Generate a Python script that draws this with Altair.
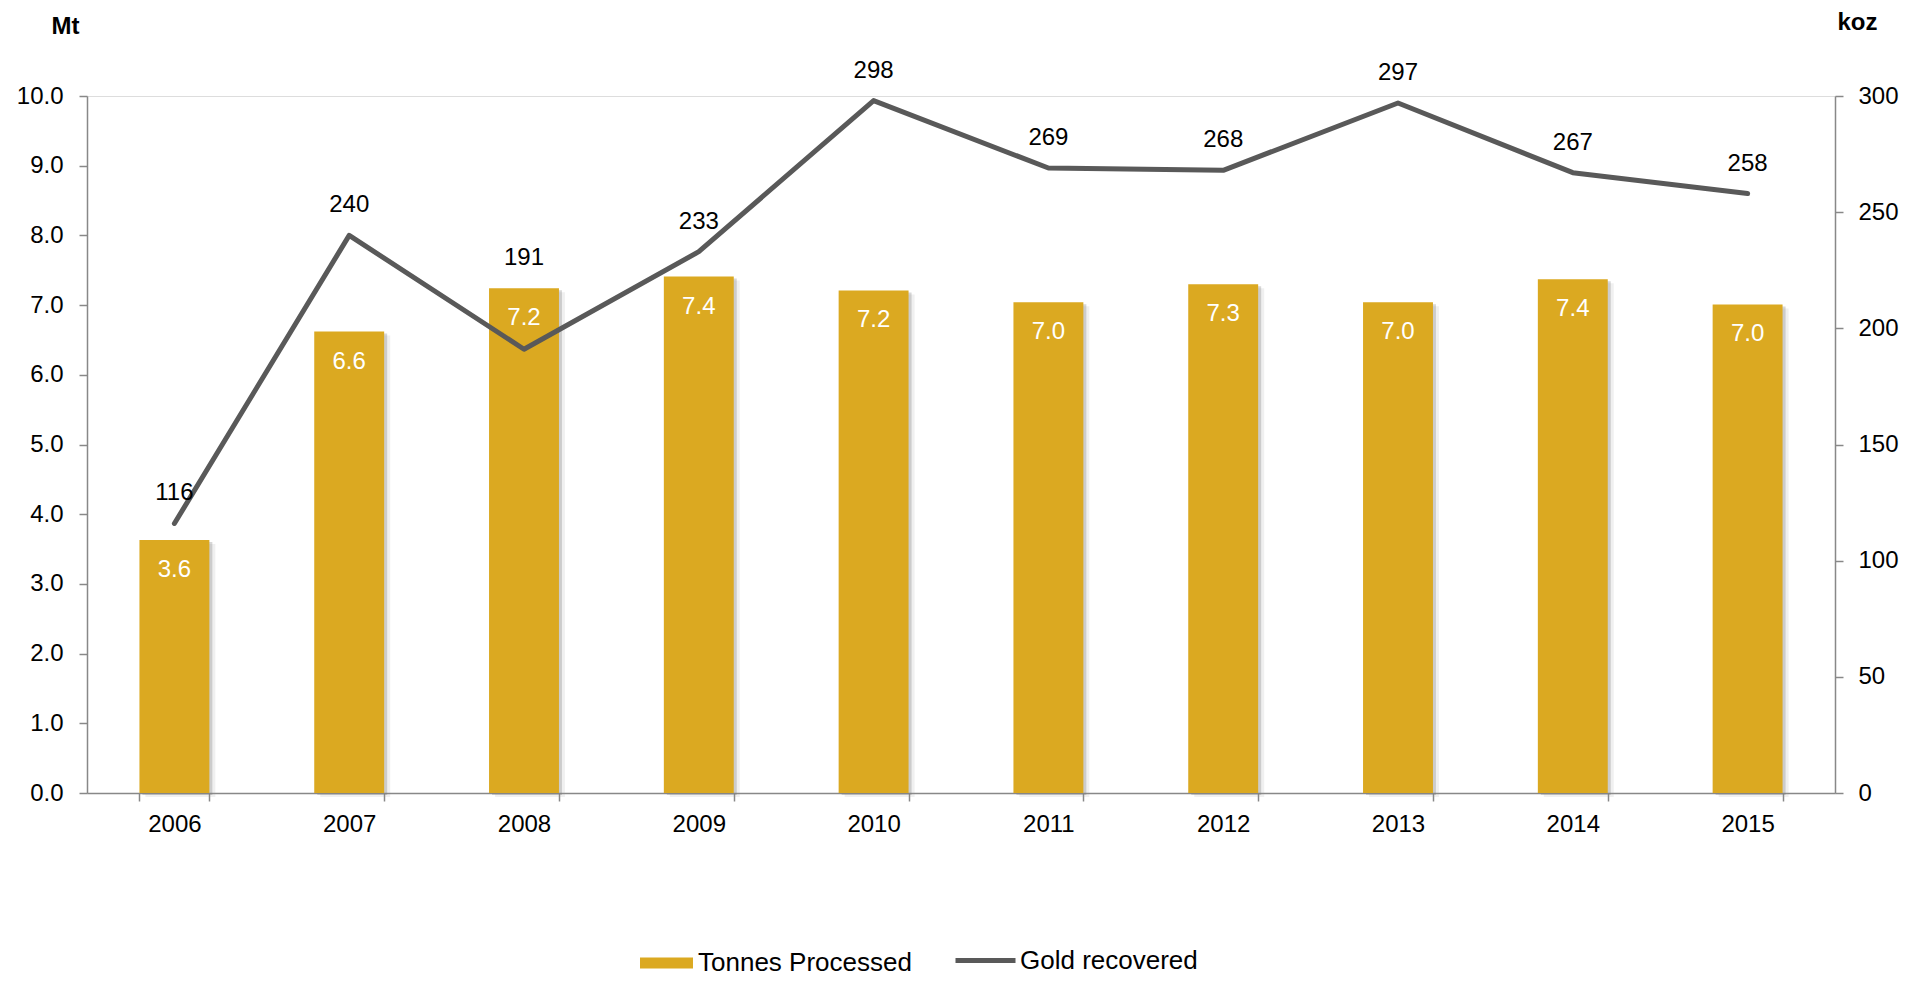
import altair as alt
import pandas as pd

years = ["2006", "2007", "2008", "2009", "2010", "2011", "2012", "2013", "2014", "2015"]
tonnes_mt = [3.63, 6.62, 7.24, 7.41, 7.21, 7.04, 7.30, 7.04, 7.37, 7.01]
gold_koz = [116, 240, 191, 233, 298, 269, 268, 297, 267, 258]
mt_ticks = [0, 1, 2, 3, 4, 5, 6, 7, 8, 9, 10]
koz_ticks = [0, 50, 100, 150, 200, 250, 300]

df = pd.DataFrame({"year": years, "mt": tonnes_mt, "koz": gold_koz})

FONT = "Liberation Sans"
GOLD = "#DBA921"
GREY = "#595959"
AXC = "#888888"

W, H = 1748, 697
SYM = 3600  # common legend symbol size (60px box)

x_enc = alt.X(
    "year:O",
    scale=alt.Scale(paddingInner=0.6, paddingOuter=0.3),
    axis=alt.Axis(
        title=None, labelAngle=0, tickBand="extent", tickSize=8, labelPadding=11,
        labelFontSize=24, labelColor="#000000", domainColor=AXC, tickColor=AXC,
        domainWidth=1.5, tickWidth=1.5, grid=False, labelFont=FONT,
    ),
)

left_axis = alt.Axis(
    orient="left", values=mt_ticks, format=".1f", tickSize=8, labelPadding=16,
    labelFontSize=24, labelColor="#000000", labelFont=FONT, domainColor=AXC, tickColor=AXC,
    domainWidth=1.5, tickWidth=1.5, grid=False,
    title="Mt", titleAngle=0, titleX=-22, titleY=-70, titleAlign="center",
    titleBaseline="middle", titleFontSize=24, titleFontWeight="bold", titleFont=FONT,
    titleColor="#000000",
)
right_axis = alt.Axis(
    orient="right", values=koz_ticks, format="d", tickSize=8, labelPadding=15,
    labelFontSize=24, labelColor="#000000", labelFont=FONT, domainColor=AXC, tickColor=AXC,
    domainWidth=1.5, tickWidth=1.5, grid=False,
    title="koz", titleAngle=0, titleX=22, titleY=-74, titleAlign="center",
    titleBaseline="middle", titleFontSize=24, titleFontWeight="bold", titleFont=FONT,
    titleColor="#000000",
)

y_left = alt.Y("mt:Q", scale=alt.Scale(domain=[0, 10], nice=False), axis=left_axis)
y_right_scale = alt.Scale(domain=[0, 300], nice=False)

base = alt.Chart(df)

shadow1 = base.mark_bar(color="#7a7a7a", opacity=0.30, xOffset=3, yOffset=2).encode(x=x_enc, y=y_left)
shadow2 = base.mark_bar(color="#9a9a9a", opacity=0.15, xOffset=6, yOffset=4).encode(x=x_enc, y=y_left)

bars = base.transform_calculate(series="'Tonnes Processed'").mark_bar().encode(
    x=x_enc,
    y=y_left,
    color=alt.Color(
        "series:N",
        scale=alt.Scale(domain=["Tonnes Processed"], range=[GOLD]),
        legend=alt.Legend(
            orient="none", legendX=549.5, legendY=837, title=None, direction="horizontal",
            symbolType="M-0.883,-0.183L0.883,-0.183L0.883,0.183L-0.883,0.183Z", symbolSize=SYM,
            symbolStrokeWidth=0, labelFontSize=26, labelFont=FONT, labelColor="#000000",
            labelOffset=1.5, padding=0, labelLimit=500,
        ),
    ),
)

bar_labels = base.mark_text(
    color="white", fontSize=24, font=FONT, baseline="top", dy=18, align="center"
).encode(x=x_enc, y=y_left, text=alt.Text("mt:Q", format=".1f"))

left = alt.layer(shadow2, shadow1, bars, bar_labels)

line = base.transform_calculate(series="'Gold recovered'").mark_line(
    strokeWidth=5, strokeCap="round", strokeJoin="round"
).encode(
    x=x_enc,
    y=alt.Y("koz:Q", scale=y_right_scale, axis=right_axis),
    color=alt.Color(
        "series:N",
        scale=alt.Scale(domain=["Gold recovered"], range=[GREY]),
        legend=alt.Legend(
            orient="none", legendX=866, legendY=832, title=None, direction="horizontal",
            symbolType="stroke", symbolSize=SYM, symbolStrokeWidth=5,
            labelFontSize=26, labelFont=FONT, labelColor="#000000",
            labelOffset=2, padding=0, labelLimit=500,
        ),
    ),
)

line_labels = base.transform_calculate(
    labely="max(datum.koz, datum.mt * 30)"
).mark_text(
    color="#000000", fontSize=24, font=FONT, baseline="alphabetic", dy=-23, align="center"
).encode(
    x=x_enc,
    y=alt.Y("labely:Q", scale=y_right_scale, axis=right_axis),
    text=alt.Text("koz:Q", format="d"),
)

right = alt.layer(line, line_labels)

chart = (
    alt.layer(left, right)
    .resolve_scale(y="independent", color="independent")
    .resolve_legend(color="independent")
    .properties(
        width=W,
        height=H,
        autosize=alt.AutoSizeParams(type="none"),
        padding={"left": 79, "top": 88, "right": 81, "bottom": 183},
        background="white",
    )
    .configure_view(stroke=None)
    .configure(font=FONT)
)

chart.save("out.html", embed_options={"renderer": "svg", "actions": False})
